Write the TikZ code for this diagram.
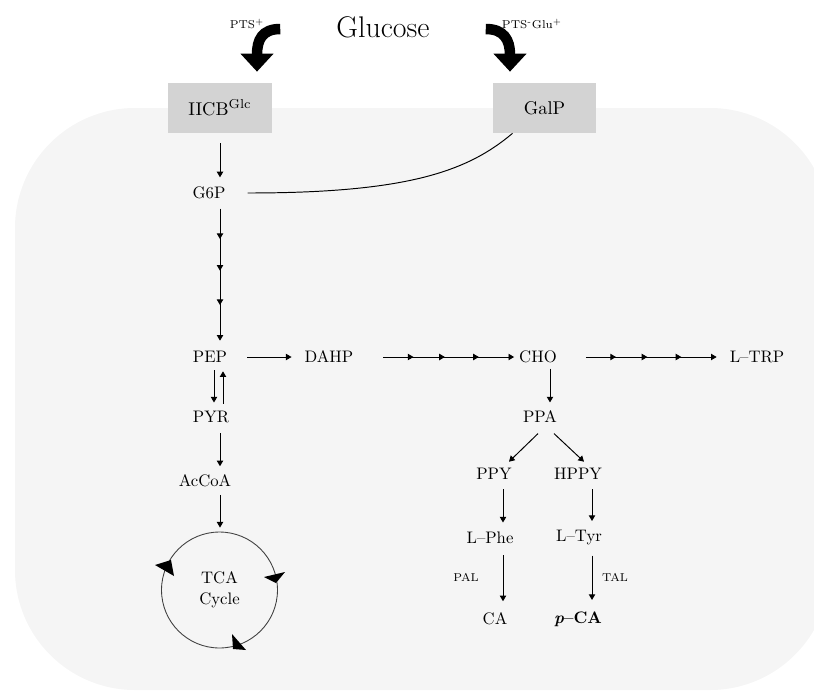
\documentclass[tikz,border=0pt]{standalone}
\usepackage{tikz}
\usetikzlibrary{arrows.meta,decorations.markings,calc}

\definecolor{cellgray}{HTML}{F5F5F5}
\definecolor{boxgray}{HTML}{D3D3D3}

\tikzset{
  tipA/.tip={Triangle[length=3.2pt,width=3.6pt]},
  lbl/.style={font=\fontsize{9.5}{12}\selectfont, inner sep=1pt},
  smalllbl/.style={font=\fontsize{6.5}{8}\selectfont, inner sep=1pt},
  porter/.style={fill=boxgray, minimum width=2.08cm, minimum height=1cm,
    inner sep=0pt, font=\fontsize{10.5}{12}\selectfont},
  flow/.style={-tipA, line width=0.55pt},
  multitip/.style={flow, postaction={decorate}, decoration={markings,
      mark=at position 0.23 with {\arrow{tipA}},
      mark=at position 0.47 with {\arrow{tipA}},
      mark=at position 0.73 with {\arrow{tipA}}}},
  bigarrow/.style={line width=0.21cm, -{Triangle[length=0.36cm,width=0.64cm]}},
}

\begin{document}
\begin{tikzpicture}[x=0.02cm, y=-0.02cm]
  \useasboundingbox (0,0) rectangle (814,693);

  % Cell
  \fill[cellgray, rounded corners=2.4cm] (15,108) rectangle (830,690);

  % Columns for the vertical arrows
  \coordinate (colA) at (220,0);
  \coordinate (colA1) at (214,0);
  \coordinate (colA2) at (223,0);
  \coordinate (colB) at (550,0);
  \coordinate (colC) at (503,0);
  \coordinate (colD) at (592,0);

  % Glucose uptake
  \node[font=\fontsize{17}{19}\selectfont] (glc) at (383,27) {Glucose};
  \node[smalllbl] (ptsA) at (247,24) {PTS\textsuperscript{+}};
  \node[smalllbl] (ptsB) at (532,24) {PTS\textsuperscript{-}Glu\textsuperscript{+}};
  \node[porter] (iicb) at (220,108) {IICB\textsuperscript{Glc}};
  \node[porter] (galp) at (544.5,108) {GalP};

  \draw[bigarrow] ($(glc.west)+(-50,2)$) .. controls +(-18,0) and +(0,-32) .. ($(iicb.north)+(37,-11)$);
  \draw[bigarrow] ($(glc.east)+(50,2)$) .. controls +(18,0) and +(0,-32) .. ($(galp.north)+(-34.5,-11)$);

  % Glycolysis
  \node[lbl] (g6p) at (209,193) {G6P};
  \node[lbl] (pep) at (210,357) {PEP};
  \node[lbl] (pyr) at (211,417) {PYR};
  \node[lbl] (accoa) at (205,481) {AcCoA};
  \node[draw=black!75, line width=0.5pt, circle, minimum size=2.32cm, inner sep=0pt,
    align=center, font=\fontsize{9.5}{12}\selectfont] (tca) at (219.5,590) {TCA\\Cycle};

  \draw[flow, shorten <=0.2cm, shorten >=0.15cm] (iicb.south -| colA) -- (g6p.north -| colA);
  \draw[line width=0.55pt] ($(g6p.east)+(20,0)$) .. controls +(160,0) and +(-45,38) .. ($(galp.south)+(-32,0)$);
  \draw[multitip] ($(g6p.south -| colA)+(0,7.5)$) -- ($(pep.north -| colA)+(0,-8.5)$);
  \draw[flow, shorten <=0.11cm, shorten >=0.13cm] (pep.south -| colA1) -- (pyr.north -| colA1);
  \draw[flow, shorten <=0.11cm, shorten >=0.13cm] (pyr.north -| colA2) -- (pep.south -| colA2);
  \draw[flow, shorten <=0.17cm, shorten >=0.13cm] (pyr.south -| colA) -- (accoa.north -| colA);
  \draw[flow, shorten <=0.11cm, shorten >=0.08cm] (accoa.south -| colA) -- (tca.north -| colA);

  % TCA cycle arrowheads
  \fill (155,565) -- (171,560) -- (174,576) -- cycle;
  \fill (264,577) -- (285,572) -- (276,583) -- cycle;
  \fill (232,634) -- (233,649) -- (246,650) -- cycle;

  % Shikimate pathway
  \node[lbl] (dahp) at (329,357) {DAHP};
  \node[lbl] (cho) at (538,357) {CHO};
  \node[lbl] (ltrp) at (757,357) {L--TRP};
  \node[lbl] (ppa) at (540,417) {PPA};
  \node[lbl] (ppy) at (494,474) {PPY};
  \node[lbl] (hppy) at (578,474) {HPPY};
  \node[lbl] (lphe) at (490,538) {L--Phe};
  \node[lbl] (ltyr) at (579,538) {L--Tyr};
  \node[lbl] (ca) at (495,619) {CA};
  \node[lbl] (pca) at (578,619) {\textbf{\textit{p}--CA}};
  \node[smalllbl] (pal) at (466,577) {PAL};
  \node[smalllbl] (tal) at (615,577) {TAL};

  \draw[flow, shorten <=0.36cm, shorten >=0.22cm] (pep.east) -- (dahp.west);
  \draw[multitip] ($(dahp.east)+(28,0)$) -- ($(cho.west)+(-3,0)$);
  \draw[multitip] ($(cho.east)+(27,0)$) -- ($(ltrp.west)+(-11,0)$);
  \draw[flow, shorten <=0.07cm, shorten >=0.13cm] (cho.south -| colB) -- (ppa.north -| colB);
  \draw[flow] ($(ppa.south)+(-2,8.5)$) -- ($(ppy.north)+(15,-4.5)$);
  \draw[flow] ($(ppa.south)+(14,8.5)$) -- ($(hppy.north)+(6,-4.5)$);
  \draw[flow, shorten <=0.15cm, shorten >=0.15cm] (ppy.south -| colC) -- (lphe.north -| colC);
  \draw[flow, shorten <=0.15cm, shorten >=0.15cm] (hppy.south -| colD) -- (ltyr.north -| colD);
  \draw[flow, shorten <=0.19cm, shorten >=0.19cm] (lphe.south -| colC) -- (ca.north -| colC);
  \draw[flow, shorten <=0.16cm, shorten >=0.19cm] (ltyr.south -| colD) -- (pca.north -| colD);
\end{tikzpicture}
\end{document}
